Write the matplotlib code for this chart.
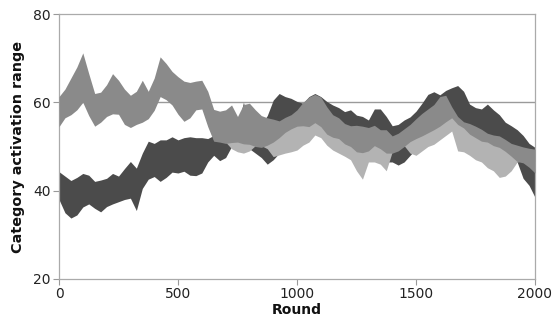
import numpy as np
import matplotlib
matplotlib.use("Agg")
import matplotlib.pyplot as plt

rounds = list(range(0, 2001, 25))

dark_top = [44.3, 43.3, 42.3, 43.0, 43.9, 43.5, 42.1, 42.4, 42.8, 43.9,
            43.3, 45.0, 46.6, 45.1, 48.5, 51.2, 50.7, 51.5, 51.5, 52.2,
            51.5, 52.0, 52.2, 52.0, 52.0, 51.8, 52.5, 53.0, 53.5, 54.0,
            54.5, 60.0, 55.0, 54.5, 55.0, 57.0, 60.5, 62.0, 61.3, 60.9,
            60.2, 59.8, 61.3, 62.0, 61.3, 60.2, 59.4, 58.8, 57.9, 58.3,
            57.1, 56.8, 56.0, 58.5, 58.5, 56.8, 54.7, 55.0, 56.0, 56.7,
            58.0, 59.8, 61.8, 62.4, 61.7, 62.7, 63.3, 63.8, 62.5, 59.6,
            58.8, 58.5, 59.6, 58.3, 57.2, 55.5, 54.7, 53.8, 52.5, 50.7,
            49.8]
dark_bot = [38.0, 35.0, 33.8, 34.5, 36.3, 37.0, 36.0, 35.2, 36.4, 37.0,
            37.5, 38.0, 38.3, 35.5, 40.5, 42.6, 43.2, 42.1, 43.0, 44.2,
            44.0, 44.4, 43.5, 43.4, 44.0, 46.5, 48.0, 46.8, 47.5, 50.0,
            50.0, 49.5, 49.5, 48.5, 47.5, 46.0, 47.0, 48.5, 50.0, 51.0,
            52.0, 53.0, 53.0, 53.5, 53.0, 51.5, 50.5, 50.0, 49.5, 48.5,
            48.0, 48.0, 48.0, 48.5, 48.0, 46.5, 46.5, 45.8, 46.5, 48.0,
            49.5, 50.5, 51.5, 52.0, 53.0, 54.0, 55.0, 54.0, 52.5, 51.0,
            50.0, 49.5, 49.0, 48.0, 47.0, 46.5, 46.0, 46.5, 42.8, 41.2,
            38.5]

mid_top = [61.3, 63.0, 65.5, 68.0, 71.2, 66.5, 62.0, 62.3, 64.0, 66.5,
           65.0, 63.0, 61.6, 62.5, 65.0, 62.5, 65.5, 70.3, 68.8, 67.0,
           65.8, 64.8, 64.5, 64.8, 65.0, 62.5, 58.4, 58.0, 58.3, 59.4,
           56.8, 59.5, 59.8, 58.3, 57.0, 56.5, 56.2, 55.8, 56.6, 57.2,
           58.3, 60.0, 61.2, 61.8, 61.2, 59.0, 57.2, 56.5, 55.2, 54.7,
           54.8, 54.6, 54.3, 54.8, 53.8, 53.8, 52.4, 53.0, 54.0, 55.0,
           56.3, 57.5, 58.5, 59.5, 61.3, 61.6, 59.0, 56.8, 55.6, 55.2,
           54.6, 53.9, 53.0, 52.6, 52.4, 51.6, 50.7, 50.3, 49.9, 49.6,
           49.4]
mid_bot = [54.5, 56.5, 57.2, 58.3, 60.0, 57.0, 54.6, 55.5, 56.8, 57.4,
           57.3, 55.0, 54.3, 55.0, 55.5, 56.3, 58.2, 61.3, 60.6, 59.4,
           57.3, 55.7, 56.5, 58.3, 58.5, 54.5, 51.2, 51.0, 50.7, 50.9,
           51.0, 50.6, 50.5, 50.0, 49.8, 50.3, 51.0, 52.0, 53.2, 54.0,
           54.6, 54.7, 54.5, 55.4, 54.5, 52.8, 52.1, 51.8, 50.6, 50.0,
           48.8, 48.6, 49.0, 50.2, 49.5, 48.5, 48.5, 49.0, 50.0, 51.1,
           51.8, 52.4, 53.1, 53.8, 54.6, 55.6, 56.5, 55.0, 54.2, 52.8,
           52.0, 51.2, 51.0, 50.2, 49.8, 48.9, 47.8, 46.6, 46.3, 45.3,
           44.0]

light_top = [58.0, 59.0, 60.0, 61.0, 62.0, 60.0, 57.0, 58.0, 59.0, 60.0,
             60.0, 58.0, 57.0, 58.0, 59.0, 59.0, 61.0, 64.0, 63.0, 62.0,
             60.0, 59.0, 59.0, 60.0, 60.5, 57.0, 53.0, 52.5, 52.0, 51.9,
             52.0, 51.6, 51.5, 51.0, 51.0, 51.5, 52.0, 53.0, 54.2, 55.0,
             55.6, 55.7, 55.5, 56.4, 55.5, 53.8, 53.1, 52.8, 51.6, 51.0,
             49.8, 49.6, 50.0, 51.2, 51.0, 50.0, 49.5, 50.0, 51.0, 52.1,
             52.8, 53.4, 54.1, 54.8, 55.6, 56.6, 57.5, 56.5, 55.2, 53.8,
             53.0, 52.2, 52.0, 51.2, 50.8, 49.9, 48.8, 47.6, 48.0, 47.5,
             46.5]
light_bot = [56.0, 57.5, 58.0, 59.0, 60.5, 58.0, 55.5, 56.5, 57.5, 58.5,
             58.0, 56.0, 55.0, 56.0, 56.5, 57.0, 59.0, 62.0, 61.5, 60.0,
             58.0, 56.5, 57.0, 59.0, 59.0, 55.0, 51.5, 51.3, 51.0, 49.5,
             48.8, 48.5, 49.0, 50.2, 50.2, 49.5, 47.7, 48.1, 48.5, 48.8,
             49.2, 50.3, 51.0, 52.6, 52.0, 50.3, 49.2, 48.5, 47.8, 47.0,
             44.5, 42.6, 46.5, 46.5, 46.0, 44.5, 48.8, 49.2, 50.2, 48.5,
             48.0, 49.0, 50.0, 50.5, 51.5, 52.5, 53.5, 49.0, 48.8, 48.0,
             47.0, 46.5, 45.2, 44.5, 43.0, 43.3, 44.5, 46.5, 46.8, 46.0,
             45.0]

x_ticks = [0, 500, 1000, 1500, 2000]
y_ticks = [20, 40, 60, 80]
threshold = 60

fig = plt.figure(figsize=(5.54, 3.25), dpi=100)
ax = fig.add_axes([59/554, 1 - 279/325, 476/554, 265/325])

ax.axhline(threshold, color="#9a9a9a", lw=1.0, zorder=1)
ax.fill_between(rounds, dark_bot, dark_top, color="#4b4b4b", lw=0, zorder=2)
ax.fill_between(rounds, light_bot, light_top, color="#b3b3b3", lw=0, zorder=3)
ax.fill_between(rounds, mid_bot, mid_top, color="#8a8a8a", lw=0, zorder=4)

ax.set_xlim(0, 2000)
ax.set_ylim(20, 80)
ax.set_xticks(x_ticks)
ax.set_yticks(y_ticks)
ax.tick_params(axis="both", labelsize=10, colors="#222222", length=4,
               width=0.8, direction="out", pad=2)
ax.tick_params(axis="both", color="#999999")
for s in ax.spines.values():
    s.set_color("#aaaaaa")
    s.set_linewidth(0.9)

ax.set_xlabel("Round", fontsize=10, fontweight="bold", labelpad=1, color="#111111")
ax.set_ylabel("Category activation range", fontsize=10.4, fontweight="bold",
              labelpad=6, color="#111111")

fig.savefig("out.png", dpi=100)
